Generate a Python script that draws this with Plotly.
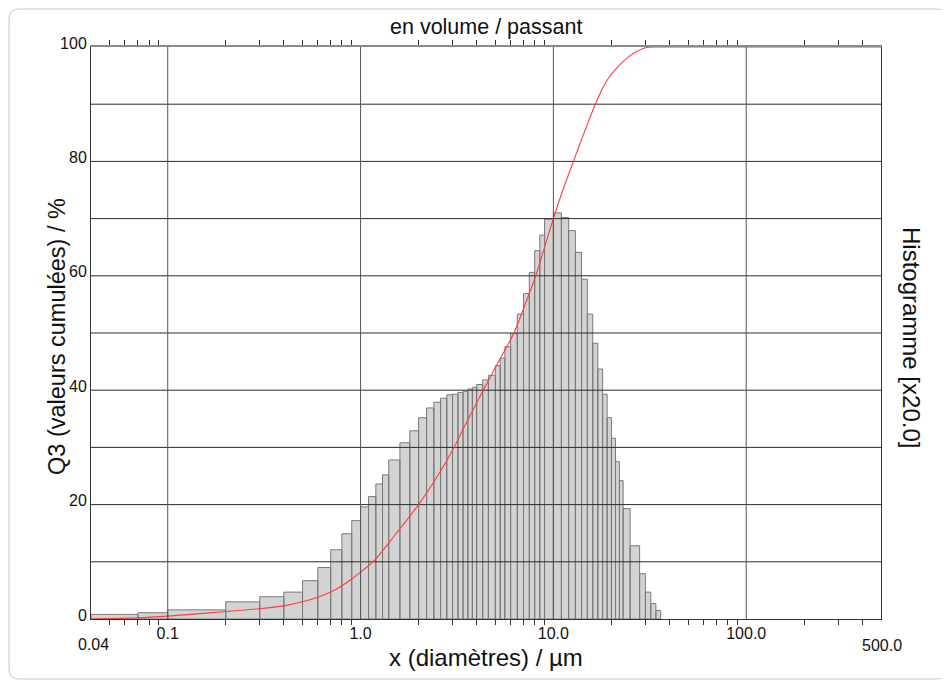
import numpy as np
import plotly.graph_objects as go

# class edges (µm) and histogram heights (read on the Q3 scale, x20)
class_edges = [0.04, 0.07, 0.1, 0.2, 0.3, 0.4, 0.5, 0.6, 0.7, 0.8, 0.9,
               1.0, 1.1, 1.2, 1.3, 1.4, 1.6, 1.8, 2.0, 2.2, 2.4, 2.6, 2.8,
               3.0, 3.2, 3.4, 3.6, 3.8, 4.0, 4.3, 4.6, 5.0, 5.3, 5.6, 6.0,
               6.5, 7.0, 7.5, 8.0, 8.5, 9.0, 10, 11, 12, 13, 14, 15, 16, 17,
               18, 19, 20, 21, 22, 23, 25, 28, 30, 32, 34, 36]
hist_values = [0.8, 1.1, 1.6, 3.0, 3.9, 4.7, 6.7, 9.0, 12.1, 14.9, 17.2,
               19.6, 21.4, 23.6, 25.2, 27.8, 30.8, 32.9, 35.2, 36.9, 37.9,
               38.6, 39.2, 39.3, 39.6, 39.8, 40.2, 40.5, 41.0, 41.8, 42.6,
               44.3, 45.6, 47.6, 49.9, 53.3, 56.9, 60.6, 64.4, 67.1, 69.9,
               71.0, 70.2, 67.9, 64.1, 59.4, 53.3, 48.2, 43.7, 39.3, 35.2,
               31.6, 27.5, 24.2, 19.3, 12.8, 7.9, 4.7, 2.7, 1.5]

# cumulative curve Q3 (%)
q3_size = [0.04, 0.07, 0.1, 0.2, 0.3, 0.4, 0.5, 0.6, 0.7, 0.8, 0.9, 1.0,
           1.16, 1.3, 1.5, 1.7, 2.0, 2.5, 3.0, 3.5, 4.3, 5.2, 6.25, 7.1,
           8.1, 9.0, 10, 11.2, 12.7, 14.5, 16.5, 18.0, 19.5, 21.0, 23.0,
           25.0, 27.0, 29.0, 31.0, 33.0, 500]
q3_value = [0, 0.2, 0.5, 1.3, 1.8, 2.3, 3.0, 3.8, 4.7, 5.8, 7.0, 8.2,
            10.0, 11.9, 14.6, 16.9, 20.0, 24.9, 29.5, 34.0, 39.8, 45.0,
            50.0, 54.8, 60.0, 65.0, 70.0, 75.0, 80.0, 85.2, 90.0, 92.8,
            94.8, 96.1, 97.5, 98.5, 99.2, 99.7, 99.95, 100, 100]

x_major = [0.1, 1, 10, 100]
x_major_text = ["0.1", "1.0", "10.0", "100.0"]
y_ticks = [0, 20, 40, 60, 80, 100]
y_grid = [10, 20, 30, 40, 50, 60, 70, 80, 90]

assert len(class_edges) == len(hist_values) + 1

xmin, xmax = 0.04, 500
xrange_log = [np.log10(xmin), np.log10(xmax)]
x_minor = [m * d for d in (0.01, 0.1, 1, 10, 100) for m in range(2, 10)
           if xmin < m * d < xmax]

# bars as closed outlines
bx, by = [], []
for lo, hi, h in zip(class_edges[:-1], class_edges[1:], hist_values):
    bx += [lo, lo, hi, hi, lo, None]
    by += [0, h, h, 0, 0, None]

# grid drawn over the bars
hx, hy = [], []
for v in y_grid:
    hx += [xmin, xmax, None]
    hy += [v, v, None]
vx, vy = [], []
for v in x_major:
    vx += [v, v, None]
    vy += [0, 100, None]

fig = go.Figure()
fig.add_trace(go.Scatter(x=bx, y=by, mode="lines", fill="toself",
                         fillcolor="#d3d3d3",
                         line=dict(color="#7a7a7a", width=1),
                         hoverinfo="skip", showlegend=False))
fig.add_trace(go.Scatter(x=hx, y=hy, mode="lines",
                         line=dict(color="#2a2a2a", width=1),
                         hoverinfo="skip", showlegend=False))
fig.add_trace(go.Scatter(x=vx, y=vy, mode="lines", xaxis="x2",
                         line=dict(color="#555555", width=1),
                         hoverinfo="skip", showlegend=False))
fig.add_trace(go.Scatter(x=q3_size, y=q3_value, mode="lines",
                         line=dict(color="#ff3c3c", width=1.1,
                                   shape="spline", smoothing=0.6),
                         hoverinfo="skip", showlegend=False))

font = "Liberation Sans, Arial, sans-serif"

# the page body has an 8px margin, so the figure is 8px smaller
FW, FH = 941, 674
L, W, T, H = 83, 790, 39, 572

# rounded frame around the whole chart (figure pixels -> paper)
def px(x): return (x - L) / W
def py(y): return (T + H - y) / H
x0, x1, y0, y1, r = 1, 939, 1, 671, 10
frame = (f"M {px(x0 + r)},{py(y0)} L {px(x1 - r)},{py(y0)} "
         f"Q {px(x1)},{py(y0)} {px(x1)},{py(y0 + r)} "
         f"L {px(x1)},{py(y1 - r)} Q {px(x1)},{py(y1)} {px(x1 - r)},{py(y1)} "
         f"L {px(x0 + r)},{py(y1)} Q {px(x0)},{py(y1)} {px(x0)},{py(y1 - r)} "
         f"L {px(x0)},{py(y0 + r)} Q {px(x0)},{py(y0)} {px(x0 + r)},{py(y0)} Z")

fig.update_layout(
    width=FW, height=FH,
    margin=dict(l=L, r=FW - L - W, t=T, b=FH - T - H),
    paper_bgcolor="white", plot_bgcolor="white",
    font=dict(family=font, color="#111111"),
    showlegend=False,
    xaxis=dict(type="log", range=xrange_log, tickvals=x_major,
               ticktext=x_major_text, ticks="", showgrid=False,
               zeroline=False, showline=True, linecolor="#333333",
               linewidth=1, tickfont=dict(size=16), ticklabelstandoff=0,
               minor=dict(tickvals=x_minor, ticks="outside", ticklen=5,
                          tickcolor="#333333", showgrid=False)),
    xaxis2=dict(type="log", range=xrange_log, overlaying="x", side="top",
                anchor="y", tickvals=x_minor, ticks="outside", ticklen=5,
                tickcolor="#333333", showticklabels=False, showgrid=False,
                zeroline=False, showline=True, linecolor="#8a8a8a",
                linewidth=2),
    yaxis=dict(range=[0, 100], tickvals=y_ticks, ticks="", showgrid=False,
               zeroline=False, showline=True, mirror=True,
               linecolor="#333333", linewidth=1, tickfont=dict(size=16),
               ticklabelshift=-4, ticklabelstandoff=0),
    shapes=[dict(type="path", xref="paper", yref="paper", path=frame,
                 line=dict(color="#c8c8c8", width=1), layer="below")],
    annotations=[
        dict(text="0.04", xref="paper", yref="paper", x=0, y=0, yshift=-25,
             xshift=2, xanchor="center", yanchor="middle", showarrow=False,
             font=dict(size=16)),
        dict(text="500.0", xref="paper", yref="paper", x=1, y=0,
             yshift=-26, xshift=1, xanchor="center", yanchor="middle",
             showarrow=False, font=dict(size=16)),
        dict(text="en volume / passant", xref="paper", yref="paper",
             x=0.5, y=1, yshift=20, xanchor="center", yanchor="middle",
             showarrow=False, font=dict(size=21.5)),
        dict(text="x (diamètres) / µm", xref="paper", yref="paper",
             x=0.5, y=0, yshift=-38, xanchor="center", yanchor="middle",
             showarrow=False, font=dict(size=24)),
        dict(text="Q3 (valeurs cumulées) / %", xref="paper", yref="paper",
             x=0, y=0.5, xshift=-34, yshift=-4, xanchor="center",
             yanchor="middle", textangle=-90, showarrow=False,
             font=dict(size=23.5)),
        dict(text="Histogramme [x20.0]", xref="paper", yref="paper",
             x=1, y=0.5, xshift=31, yshift=-4, xanchor="center",
             yanchor="middle", textangle=90, showarrow=False,
             font=dict(size=24)),
    ],
)

fig.write_html("out.html")
